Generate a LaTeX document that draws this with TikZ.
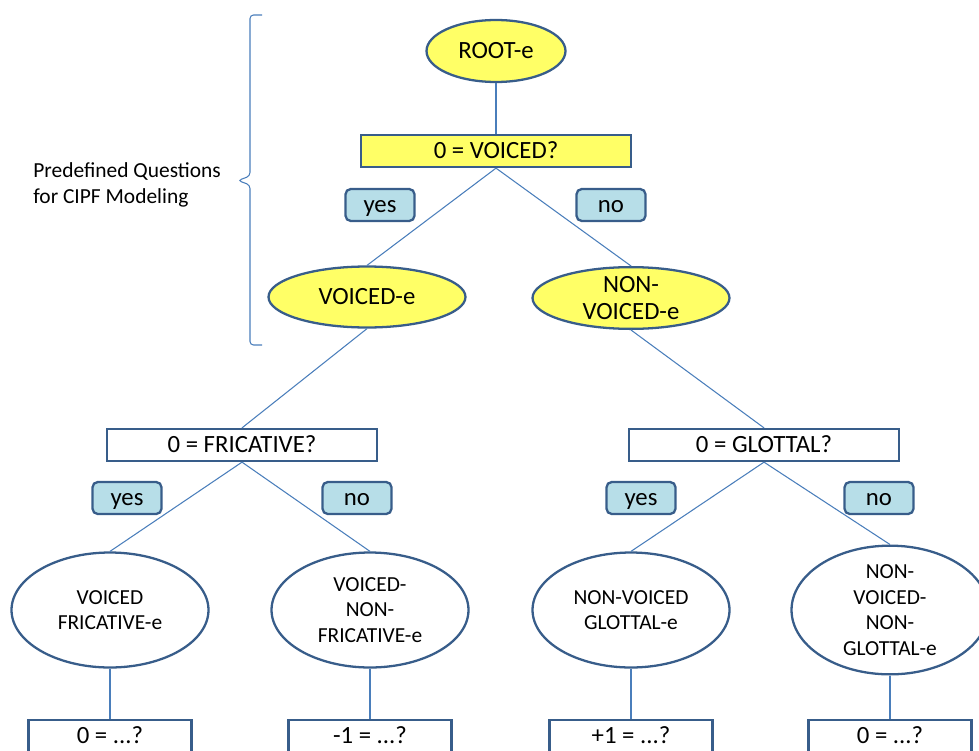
\documentclass[tikz,border=0pt]{standalone}
\usepackage{fontspec}
\setmainfont{Carlito}
\usepackage{tikz}
\usetikzlibrary{shapes.geometric}

\definecolor{edgeblue}{HTML}{385D8A}
\definecolor{lineblue}{HTML}{4A7EBB}
\definecolor{qyellow}{HTML}{FFFF66}
\definecolor{ansblue}{HTML}{B7DEE8}

\tikzset{
  bigtext/.style={font=\fontsize{14.1}{15.6}\selectfont},
  smalltext/.style={font=\fontsize{12.2}{14.6}\selectfont},
  boxtext/.style={bigtext, text height=0.94em, text depth=0.14em},
  state/.style={ellipse, draw=edgeblue, line width=1.3pt, inner sep=0pt, align=center},
  question/.style={rectangle, draw=edgeblue, line width=1.3pt, inner sep=0pt,
    minimum width=5.4cm, minimum height=0.64cm, boxtext},
  answer/.style={rectangle, rounded corners=3pt, draw=edgeblue, fill=ansblue,
    line width=1.3pt, inner sep=0pt, minimum width=1.38cm, minimum height=0.64cm, boxtext},
  leaf/.style={rectangle, draw=edgeblue, line width=1.3pt, inner sep=0pt,
    minimum width=3.26cm, minimum height=0.66cm, boxtext},
  link/.style={draw=lineblue, line width=0.6pt}
}

\begin{document}
\begin{tikzpicture}[x=0.02cm, y=-0.02cm]
        \useasboundingbox (0,0) rectangle (979,750);

        %Predefined part
        \node [smalltext, align=left, anchor=west, inner sep=0pt] (note) at (33,185) {Predefined Questions\\for CIPF Modeling};
        \draw [link, rounded corners=2pt] (262,15) -- (250,15) -- (250,176) -- (238,180.5)
          -- (250,185) -- (250,345) -- (262,345);

        %Root
        \node [state, bigtext, fill=qyellow, minimum width=2.78cm, minimum height=1.24cm] (root) at (496,51) {ROOT-e};
        \node [question, fill=qyellow] (qvoiced) at (496,151) {0 = VOICED?};
        \node [answer] (yes1) at (380,205) {yes};
        \node [answer] (no1) at (611,205) {no};
        \node [state, bigtext, fill=qyellow, minimum width=3.94cm, minimum height=1.22cm] (voiced) at (367,297) {VOICED-e};
        \node [state, bigtext, fill=qyellow, minimum width=3.94cm, minimum height=1.22cm] (nonvoiced) at (631,298) {NON-\\VOICED-e};

        %Fricative
        \node [question] (qfric) at (242,445) {0 = FRICATIVE?};
        \node [answer] (yes2) at (127,498) {yes};
        \node [answer] (no2) at (357,498) {no};
        \node [state, smalltext, minimum width=3.94cm, minimum height=2.3cm] (vfric) at (110,610) {VOICED\\FRICATIVE-e};
        \node [state, smalltext, minimum width=3.94cm, minimum height=2.3cm] (vnfric) at (370,610) {VOICED-\\NON-\\FRICATIVE-e};
        \node [leaf] (leaf1) at (110,736.5) {0 = ...?};
        \node [leaf] (leaf2) at (370,736.5) {-1 = ...?};

        %Glottal
        \node [question] (qglot) at (764,445) {0 = GLOTTAL?};
        \node [answer] (yes3) at (641,498) {yes};
        \node [answer] (no3) at (879,498) {no};
        \node [state, smalltext, minimum width=3.94cm, minimum height=2.3cm] (nvglot) at (631,610) {NON-VOICED\\GLOTTAL-e};
        \node [state, smalltext, minimum width=3.94cm, minimum height=2.3cm] (nvnglot) at (890,610) {NON-\\VOICED-\\NON-\\GLOTTAL-e};
        \node [leaf] (leaf3) at (631,736.5) {+1 = ...?};
        \node [leaf] (leaf4) at (890,736.5) {0 = ...?};

        %Links
        \draw [link] (root) -- (qvoiced);
        \draw [link] (qvoiced.south) -- (voiced.north);
        \draw [link] (qvoiced.south) -- (nonvoiced.north);
        \draw [link] (voiced.south) -- (qfric.north);
        \draw [link] (nonvoiced.south) -- (qglot.north);
        \draw [link] (qfric.south) -- (vfric.north);
        \draw [link] (qfric.south) -- (vnfric.north);
        \draw [link] (qglot.south) -- (nvglot.north);
        \draw [link] (qglot.south) -- (nvnglot.north);
        \draw [link] (vfric) -- (leaf1);
        \draw [link] (vnfric) -- (leaf2);
        \draw [link] (nvglot) -- (leaf3);
        \draw [link] (nvnglot) -- (leaf4);
      \end{tikzpicture}
\end{document}
